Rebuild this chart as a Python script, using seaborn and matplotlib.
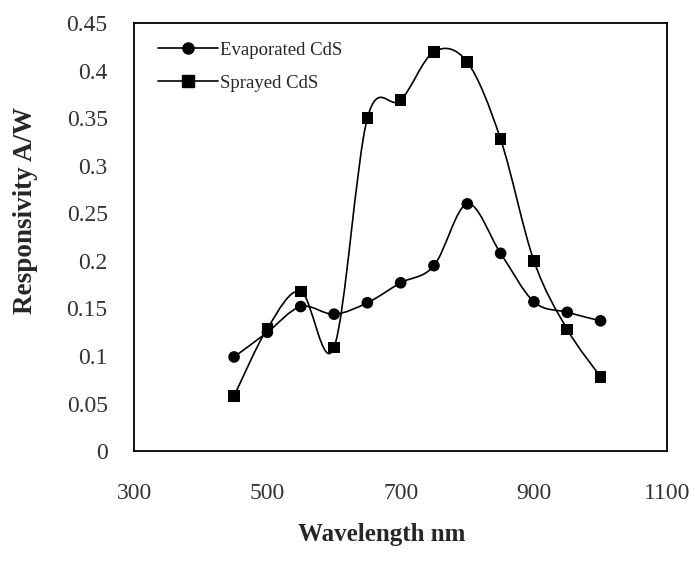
import numpy as np
import pandas as pd
import matplotlib
matplotlib.use("Agg")
import matplotlib.pyplot as plt
from matplotlib.path import Path
from matplotlib.patches import PathPatch
from matplotlib.lines import Line2D
import seaborn as sns

# values
wavelength = [450, 500, 550, 600, 650, 700, 750, 800, 850, 900, 950, 1000]
evaporated = [0.099, 0.125, 0.152, 0.144, 0.156, 0.177, 0.195, 0.260, 0.208, 0.157, 0.146, 0.137]
sprayed = [0.058, 0.129, 0.168, 0.109, 0.350, 0.369, 0.420, 0.409, 0.328, 0.200, 0.128, 0.078]
series_names = ["Evaporated CdS", "Sprayed CdS"]
x_ticks = [300, 500, 700, 900, 1100]
y_ticks = [0, 0.05, 0.1, 0.15, 0.2, 0.25, 0.3, 0.35, 0.4, 0.45]
y_tick_labels = ["0", "0.05", "0.1", "0.15", "0.2", "0.25", "0.3", "0.35", "0.4", "0.45"]

df = pd.DataFrame({
    "wavelength": wavelength * 2,
    "resp": evaporated + sprayed,
    "series": [series_names[0]] * len(wavelength) + [series_names[1]] * len(wavelength),
})

sns.set_style("white")
plt.rcParams['font.family'] = ['Liberation Serif', 'DejaVu Serif']


def smooth_path(xs, ys):
    # excel-like smoothed line: cubic bezier segments through every point
    pts = np.column_stack([xs, ys]).astype(float)
    n = len(pts)
    verts = [pts[0]]
    codes = [Path.MOVETO]
    for i in range(n - 1):
        p0 = pts[i - 1] if i > 0 else pts[i]
        p1 = pts[i]
        p2 = pts[i + 1]
        p3 = pts[i + 2] if i + 2 < n else pts[i + 1]
        c1 = p1 + (p2 - p0) / 6.0
        c2 = p2 - (p3 - p1) / 6.0
        verts += [c1, c2, p2]
        codes += [Path.CURVE4] * 3
    return Path(verts, codes)


fig = plt.figure(figsize=(6.95, 5.66), dpi=100)
ax = fig.add_axes([0.193, 0.203, 0.767, 0.756])

for name in series_names:
    sub = df[df["series"] == name]
    patch = PathPatch(smooth_path(sub["wavelength"], sub["resp"]), facecolor="none",
                      edgecolor="black", lw=1.2, transform=ax.transData, zorder=2)
    ax.add_patch(patch)

sns.scatterplot(data=df, x="wavelength", y="resp", style="series", hue="series",
                markers={series_names[0]: "o", series_names[1]: "s"},
                palette={series_names[0]: "black", series_names[1]: "black"},
                s=70, edgecolor="black", linewidth=0, ax=ax, zorder=3, legend=False)

ax.set_xlim(300, 1100)
ax.set_ylim(0, 0.45)
ax.set_xticks(x_ticks)
ax.set_xticklabels([str(t) for t in x_ticks])
ax.set_yticks(y_ticks)
ax.set_yticklabels(y_tick_labels)
ax.tick_params(axis="both", length=0, labelsize=17, colors="#333333")
ax.tick_params(axis="y", pad=19)
ax.tick_params(axis="x", pad=23)

for sp in ax.spines.values():
    sp.set_color("black")
    sp.set_linewidth(1.3)

ax.set_xlabel("Wavelength nm", fontsize=18, fontweight="bold")
ax.set_ylabel("Responsivity A/W", fontsize=19.5, fontweight="bold")
ax.xaxis.set_label_coords(0.465, -0.168)
ax.yaxis.set_label_coords(-0.18, 0.563)

handles = [
    Line2D([], [], color="black", lw=1.2, marker="o", markersize=8),
    Line2D([], [], color="black", lw=1.2, marker="s", markersize=8),
]
ax.legend(handles, series_names, loc="upper left", bbox_to_anchor=(0.03, 0.975),
          frameon=False, fontsize=13.5, handlelength=3.2, handletextpad=0.15,
          labelspacing=0.85, borderaxespad=0)

fig.savefig("out.png", dpi=100)
